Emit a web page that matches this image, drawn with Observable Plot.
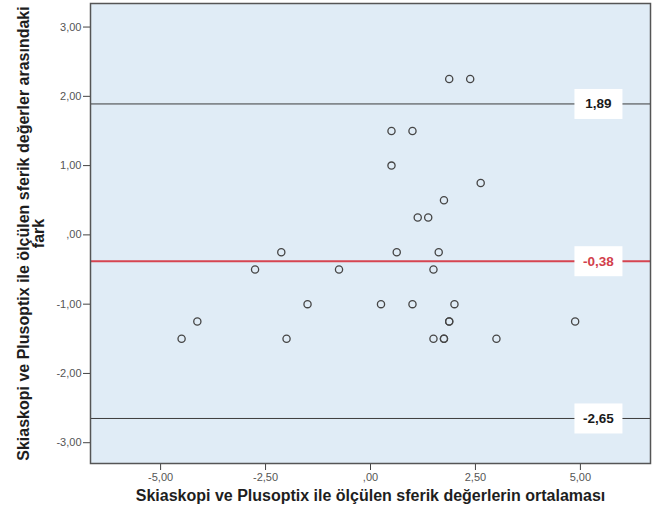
<!DOCTYPE html>
<html>
<head>
<meta charset="utf-8">
<script src="https://cdn.jsdelivr.net/npm/d3@7"></script>
<script src="https://cdn.jsdelivr.net/npm/@observablehq/plot@0.6"></script>
<style>
  html, body { margin: 0; padding: 0; background: #ffffff; }
  #chart svg { display: block; }
</style>
</head>
<body>
<div id="chart"></div>
<script>
// Data: mean of two measurements (x) and their difference (y)
const meanValues = [-4.5, -4.125, -2.75, -2.125, -2.0, -1.5, -0.75, 0.25, 0.5, 0.5, 0.625, 1.0, 1.0, 1.125, 1.375, 1.5, 1.5, 1.625, 1.75, 1.75, 1.75, 1.875, 1.875, 1.875, 2.0, 2.375, 2.625, 3.0, 4.875];
const diffValues = [-1.5, -1.25, -0.5, -0.25, -1.5, -1.0, -0.5, -1.0, 1.5, 1.0, -0.25, 1.5, -1.0, 0.25, 0.25, -0.5, -1.5, -0.25, 0.5, -1.5, -1.5, 2.25, -1.25, -1.25, -1.0, 2.25, 0.75, -1.5, -1.25];

// Reference lines (limits of agreement and mean difference)
const refValues = [1.89, -0.38, -2.65];
const refLabels = ["1,89", "-0,38", "-2,65"];
const refColors = ["#1a1a1a", "#d2404b", "#1a1a1a"];
const refLineColors = ["#3c3c3c", "#d64550", "#3c3c3c"];
const refLineWidths = [1, 2, 1];
const refLabelX = 5.43;

// Axis ticks and labels
const xTicks = [-5, -2.5, 0, 2.5, 5];
const xTickLabels = ["-5,00", "-2,50", ",00", "2,50", "5,00"];
const yTicks = [3, 2, 1, 0, -1, -2, -3];
const yTickLabels = ["3,00", "2,00", "1,00", ",00", "-1,00", "-2,00", "-3,00"];
const xTitle = "Skiaskopi ve Plusoptix ile ölçülen sferik değerlerin ortalaması";
const yTitle = "Skiaskopi ve Plusoptix ile ölçülen sferik değerler arasındaki\nfark";

const points = meanValues.map((m, i) => ({x: m, y: diffValues[i]}));
const refs = refValues.map((v, i) => ({value: v, label: refLabels[i], color: refColors[i], line: refLineColors[i], w: refLineWidths[i]}));

const xLabelMap = new Map(xTicks.map((t, i) => [t, xTickLabels[i]]));
const yLabelMap = new Map(yTicks.map((t, i) => [t, yTickLabels[i]]));

const font = "'Liberation Sans', Arial, sans-serif";

const chart = Plot.plot({
  width: 653,
  height: 515,
  marginLeft: 90,
  marginRight: 3,
  marginTop: 3,
  marginBottom: 52,
  style: {fontFamily: font, background: "#ffffff"},
  x: {domain: [-6.67, 6.67]},
  y: {domain: [-3.30, 3.34]},
  marks: [
    Plot.frame({fill: "#e0ecf6", stroke: null}),
    Plot.axisX({ticks: xTicks, tickFormat: d => xLabelMap.get(d), tickSize: 7, tickPadding: 3, fontSize: 11, color: "#555", stroke: "#444", label: null}),
    Plot.axisY({ticks: yTicks, tickFormat: d => yLabelMap.get(d), tickSize: 7, tickPadding: 2, fontSize: 11, color: "#555", stroke: "#444", label: null}),
    Plot.ruleY(refs, {y: "value", stroke: d => d.line, strokeWidth: d => d.w}),
    Plot.dot(points, {x: "x", y: "y", r: 3.6, stroke: "#454545", strokeWidth: 1.3, fill: "none"}),
    Plot.text(refs, {
      x: () => refLabelX, y: "value", text: "label", fill: d => d.color,
      fontSize: 13.5, fontWeight: "bold",
      render(index, scales, values, dimensions, context, next) {
        const g = next(index, scales, values, dimensions, context);
        const ns = "http://www.w3.org/2000/svg";
        for (const i of index) {
          const r = document.createElementNS(ns, "rect");
          r.setAttribute("x", values.x[i] - 24);
          r.setAttribute("y", values.y[i] - 15);
          r.setAttribute("width", 48);
          r.setAttribute("height", 30);
          r.setAttribute("fill", "#ffffff");
          g.insertBefore(r, g.firstChild);
        }
        return g;
      }
    }),
    Plot.frame({stroke: "#555", strokeWidth: 1.5}),
    Plot.text([xTitle], {frameAnchor: "bottom", dy: 37, text: d => d, fontSize: 16, fontWeight: "bold", fill: "#1e1e1e"}),
    Plot.text([yTitle], {frameAnchor: "left", dx: -59, rotate: -90, textAnchor: "middle", lineAnchor: "middle", text: d => d, fontSize: 16, fontWeight: "bold", fill: "#1e1e1e", lineHeight: 0.95})
  ]
});

document.getElementById("chart").appendChild(chart);
</script>
</body>
</html>
